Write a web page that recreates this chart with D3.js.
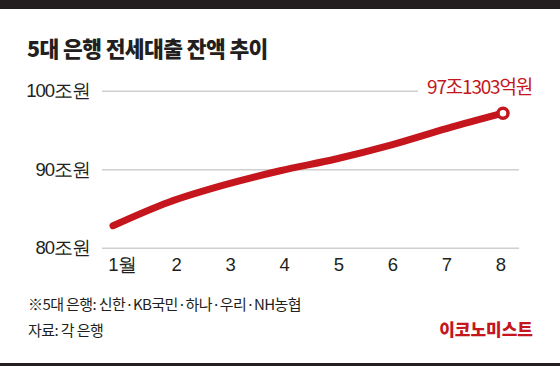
<!DOCTYPE html>
<html>
<head>
<meta charset="utf-8">
<script src="https://cdn.jsdelivr.net/npm/d3@7"></script>
<style>
  body { margin: 0; background: #fff; }
  svg { display: block; font-family: "Noto Sans CJK KR", "Noto Sans", sans-serif; }
  .axis .domain { display: none; }
</style>
</head>
<body>
<svg id="chart" width="560" height="366"></svg>
<script>
const months = [1, 2, 3, 4, 5, 6, 7, 8];
const monthLabels = ["1월", "2", "3", "4", "5", "6", "7", "8"];
const balance = [82.8, 85.8, 88.0, 89.8, 91.3, 93.1, 95.2, 97.13];
const yTicks = [80, 90, 100];
const lastLabel = "97조1303억원";

const red = "#c4161c",
  ink = "#231f20";

const svg = d3.select("#chart");

// top bar and bottom rule
svg.append("rect").attr("x", 0).attr("y", 0).attr("width", 560).attr("height", 9).attr("fill", ink);
svg.append("rect").attr("x", 0).attr("y", 363).attr("width", 560).attr("height", 3).attr("fill", ink);

svg.append("text")
  .attr("x", 27)
  .attr("y", 57)
  .attr("fill", ink)
  .style("font-size", "21.5px")
  .style("font-weight", 900)
  .style("letter-spacing", "-0.6px")
  .text("5대 은행 전세대출 잔액 추이");

const x = d3.scaleLinear().domain([1, 8]).range([113, 503]),
  xLabel = d3.scaleLinear().domain([1, 8]).range([121.5, 500]),
  y = d3.scaleLinear().domain([80, 100]).range([247.7, 90.7]);

const gridLeft = 102,
  gridRight = 519;

const yAxis = svg
  .append("g")
  .attr("class", "axis y")
  .attr("transform", `translate(${gridLeft},0)`)
  .call(
    d3.axisLeft(y)
      .tickValues(yTicks)
      .tickSize(-(gridRight - gridLeft))
      .tickPadding(12)
      .tickFormat((d) => d + "조원")
  );

yAxis.selectAll(".tick line").attr("stroke", "#cfcfcf").attr("stroke-width", 1.5);
yAxis.selectAll(".tick line").filter((d) => d === 100).attr("x2", 418 - gridLeft);
yAxis.selectAll(".tick text")
  .attr("fill", ink)
  .style("font-size", "18.5px")
  .style("letter-spacing", "-1px")
  .attr("dy", "0.34em");

const xAxis = svg
  .append("g")
  .attr("class", "axis x")
  .attr("transform", "translate(0,258)")
  .call(
    d3.axisBottom(xLabel)
      .tickValues(months)
      .tickSize(0)
      .tickPadding(0)
      .tickFormat((d, i) => monthLabels[i])
  );

xAxis.selectAll(".tick text")
  .attr("fill", ink)
  .style("font-size", "18.5px")
  .style("letter-spacing", "-1px")
  .attr("dy", "0.71em");

const pts = months.map((m, i) => ({ m, v: balance[i] }));

svg.append("path")
  .datum(pts)
  .attr("fill", "none")
  .attr("stroke", red)
  .attr("stroke-width", 7)
  .attr("stroke-linecap", "round")
  .attr(
    "d",
    d3.line()
      .curve(d3.curveMonotoneX)
      .x((d) => x(d.m))
      .y((d) => y(d.v))
  );

const last = pts[pts.length - 1];
svg.append("circle")
  .attr("cx", x(last.m))
  .attr("cy", y(last.v))
  .attr("r", 5)
  .attr("fill", "#fff")
  .attr("stroke", red)
  .attr("stroke-width", 3.5);

svg.append("text")
  .attr("x", 532)
  .attr("y", 94)
  .attr("text-anchor", "end")
  .attr("fill", red)
  .style("font-size", "19px")
  .style("letter-spacing", "-1.2px")
  .text(lastLabel);

svg.append("text")
  .attr("x", 28)
  .attr("y", 310)
  .attr("fill", ink)
  .style("font-size", "15px")
  .style("letter-spacing", "-0.6px")
  .text("※5대 은행: 신한·KB국민·하나·우리·NH농협");

svg.append("text")
  .attr("x", 28)
  .attr("y", 336)
  .attr("fill", ink)
  .style("font-size", "15px")
  .style("letter-spacing", "-0.6px")
  .text("자료: 각 은행");

svg.append("text")
  .attr("x", 533)
  .attr("y", 336)
  .attr("text-anchor", "end")
  .attr("fill", red)
  .style("font-size", "17px")
  .style("font-weight", 900)
  .text("이코노미스트");
</script>
</body>
</html>
